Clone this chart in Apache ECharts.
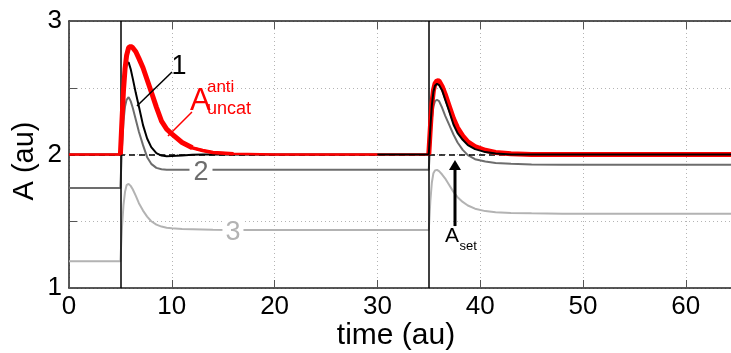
<!DOCTYPE html>
<html><head><meta charset="utf-8">
<script src="https://cdn.jsdelivr.net/npm/echarts@6/dist/echarts.min.js"></script>
<style>html,body{margin:0;padding:0;background:#fff}#c{width:731px;height:353px}</style>
</head><body><div id="c"></div>
<script>
// ---- data ----
const time = [0, 5, 5.15, 5.3, 5.45, 5.6, 5.8, 6.0, 6.2, 6.5, 6.8, 7.2, 7.6, 8.0, 8.5, 9.0, 9.5, 10, 11, 12, 13, 14, 16, 20, 25, 30,
  35, 35.15, 35.3, 35.45, 35.6, 35.8, 36.0, 36.3, 36.6, 37.0, 37.4, 37.8, 38.3, 38.8, 39.5, 40.5, 41.5, 43, 45, 48, 52, 56, 60, 64.4];
const aAntiUncat = [2.0, 2.0, 2.25, 2.48, 2.64, 2.74, 2.80, 2.81, 2.80, 2.77, 2.72, 2.65, 2.56, 2.47, 2.355, 2.25, 2.19, 2.155, 2.09, 2.05, 2.03, 2.015, 2.005, 2.0, 2.0, 2.0,
  2.0, 2.2, 2.38, 2.48, 2.53, 2.553, 2.55, 2.51, 2.45, 2.36, 2.27, 2.20, 2.14, 2.095, 2.06, 2.032, 2.015, 2.005, 2.0, 2.0, 2.0, 2.0, 2.0, 2.0];
const curve1 = [2.0, 2.0, 2.3, 2.52, 2.63, 2.68, 2.69, 2.64, 2.57, 2.46, 2.36, 2.22, 2.12, 2.055, 2.01, 1.992, 1.987, 1.988, 1.993, 1.998, 2.0, 2.0, 2.0, 2.0, 2.0, 2.0,
  2.0, 2.2, 2.37, 2.47, 2.515, 2.53, 2.52, 2.48, 2.41, 2.32, 2.225, 2.16, 2.11, 2.07, 2.04, 2.018, 2.008, 2.0, 2.0, 2.0, 2.0, 2.0, 2.0, 2.0];
const curve2 = [1.75, 1.75, 2.05, 2.25, 2.36, 2.41, 2.43, 2.40, 2.35, 2.26, 2.17, 2.07, 1.98, 1.93, 1.90, 1.89, 1.886, 1.885, 1.885, 1.885, 1.885, 1.885, 1.885, 1.885, 1.885, 1.885,
  1.885, 2.1, 2.27, 2.36, 2.40, 2.41, 2.40, 2.35, 2.29, 2.22, 2.15, 2.09, 2.035, 1.995, 1.965, 1.947, 1.937, 1.93, 1.926, 1.924, 1.923, 1.923, 1.923, 1.923];
const curve3 = [1.2, 1.2, 1.45, 1.62, 1.72, 1.77, 1.78, 1.765, 1.74, 1.69, 1.635, 1.58, 1.535, 1.50, 1.475, 1.46, 1.452, 1.447, 1.442, 1.44, 1.438, 1.436, 1.435, 1.434, 1.434, 1.434,
  1.434, 1.65, 1.79, 1.86, 1.88, 1.885, 1.875, 1.85, 1.82, 1.77, 1.72, 1.68, 1.645, 1.618, 1.594, 1.576, 1.567, 1.562, 1.559, 1.557, 1.556, 1.556, 1.556, 1.556];
const xTicks = [0, 10, 20, 30, 40, 50, 60];
const yTicks = [1, 2, 3];
const pulseTimes = [5, 35];
const aSet = 2;
const xMax = 64.4;

// ---- chart ----
const FONT = '"Liberation Sans", Arial, Helvetica, sans-serif';
const chart = echarts.init(document.getElementById('c'), null, {renderer: 'canvas'});
const pairs = (vals, keep) => time.map((t, i) => (keep ? keep(t) : true) ? [t, vals[i]] : [t, '-']);

const axisLine = {show: true, onZero: false, lineStyle: {color: '#222', width: 1.5}};
const gridDots = {show: true, lineStyle: {color: '#b4b4b4', width: 1, type: [1, 3]}};

chart.setOption({
  animation: false,
  grid: {left: 69, right: 0, top: 21, bottom: 65},
  xAxis: [{
    type: 'value', min: 0, max: xMax, interval: 10, position: 'bottom',
    axisLine, axisTick: {show: true, inside: true, length: 8, lineStyle: {color: '#555', width: 1}},
    axisLabel: {margin: 6, fontSize: 26, color: '#000', fontFamily: FONT, showMaxLabel: false,
      formatter: v => xTicks.includes(v) ? String(v) : ''},
    splitLine: gridDots
  }, {
    type: 'value', min: 0, max: xMax, interval: 10, position: 'top',
    axisLine, axisTick: {show: true, inside: true, length: 8, lineStyle: {color: '#555', width: 1}},
    axisLabel: {show: false}, splitLine: {show: false}
  }],
  yAxis: [{
    type: 'value', min: 1, max: 3, interval: 0.5,
    axisLine, axisTick: {show: true, inside: true, length: 8, lineStyle: {color: '#555', width: 1}},
    axisLabel: {margin: 7, fontSize: 26, color: '#000', fontFamily: FONT,
      formatter: v => yTicks.includes(v) ? String(v) : ''},
    splitLine: gridDots
  }],
  series: [
    {name: '3', type: 'line', data: pairs(curve3), symbol: 'none', z: 2,
      lineStyle: {color: '#b3b3b3', width: 2},
      markLine: {silent: true, symbol: 'none', label: {show: false},
        lineStyle: {color: '#000', width: 1.5, type: [6, 4]},
        data: [{yAxis: aSet}]}},
    {name: '2', type: 'line', data: pairs(curve2), symbol: 'none', z: 3,
      lineStyle: {color: '#6d6d6d', width: 2}},
    {name: '1a', type: 'line', data: pairs(curve1, t => t <= 30), symbol: 'none', z: 4,
      lineStyle: {color: '#000', width: 2}},
    {name: 'anti', type: 'line', data: pairs(aAntiUncat), symbol: 'none', z: 5,
      lineStyle: {color: '#ff0000', width: 2.5}},
    {name: 'antiMid', type: 'line', data: pairs(aAntiUncat, t => t >= 10 && t <= 16),
      symbol: 'none', z: 5, connectNulls: false,
      lineStyle: {color: '#ff0000', width: 3.5}},
    {name: 'antiThick', type: 'line', data: pairs(aAntiUncat, t => (t >= 5 && t <= 12) || t >= 35),
      symbol: 'none', z: 6, connectNulls: false,
      lineStyle: {color: '#ff0000', width: 5}},
    {name: '1b', type: 'line', data: pairs(curve1, t => t >= 30), symbol: 'none', z: 7,
      lineStyle: {color: '#000', width: 2},
      markLine: {silent: true, symbol: 'none', label: {show: false},
        lineStyle: {color: '#000', width: 1.5, type: 'solid'},
        data: pulseTimes.map(t => ({xAxis: t}))}}
  ]
});

// ---- annotations placed in data coordinates ----
const P = (t, v) => chart.convertToPixel({gridIndex: 0}, [t, v]);
function txt(t, v, str, size, color, extra) {
  const p = P(t, v);
  return Object.assign({type: 'text', x: p[0], y: p[1], z: 100,
    style: Object.assign({text: str, font: size + 'px ' + FONT, fill: color, align: 'left', verticalAlign: 'middle'}, extra || {})});
}
function seg(a, b, color, w) {
  const p = P(a[0], a[1]), q = P(b[0], b[1]);
  return {type: 'line', z: 100, shape: {x1: p[0], y1: p[1], x2: q[0], y2: q[1]}, style: {stroke: color, lineWidth: w}};
}
const tip = P(37.55, 1.959), tail = P(37.55, 1.464);
const graphic = [
  seg([6.61, 2.363], [10.02, 2.618], '#000', 1.5),
  txt(10.70, 2.659, '1', 27, '#000', {align: 'center'}),
  seg([9.63, 2.139], [11.96, 2.318], '#ff0000', 1.5),
  txt(11.77, 2.318 + 0.347 * 31 / 133.5, 'A', 31, '#ff0000'),
  txt(13.42, 2.457 + 0.347 * 17 / 133.5, 'anti', 17, '#ff0000'),
  txt(13.42, 2.296 + 0.347 * 18 / 133.5, 'uncat', 18, '#ff0000'),
  txt(12.84, 1.865, '2', 27, '#6d6d6d', {align: 'center', backgroundColor: '#fff', padding: [0, 4]}),
  txt(15.95, 1.416, '3', 27, '#b3b3b3', {align: 'center', backgroundColor: '#fff', padding: [0, 3]}),
  {type: 'line', z: 100, shape: {x1: tail[0], y1: tail[1], x2: tip[0], y2: tip[1] + 8}, style: {stroke: '#000', lineWidth: 3}},
  {type: 'polygon', z: 100, shape: {points: [[tip[0], tip[1]], [tip[0] - 6, tip[1] + 10], [tip[0] + 6, tip[1] + 10]]}, style: {fill: '#000'}},
  txt(36.58, 1.333 + 0.347 * 21 / 133.5, 'A', 21, '#000'),
  txt(37.99, 1.281 + 0.347 * 13 / 133.5, 'set', 13, '#000'),
  {type: 'text', x: 396, y: 336, z: 100, style: {text: 'time (au)', font: '30px ' + FONT, fill: '#000', align: 'center', verticalAlign: 'middle'}},
  {type: 'text', x: 25, y: 161, rotation: Math.PI / 2, z: 100, style: {text: 'A (au)', font: '29px ' + FONT, fill: '#000', align: 'center', verticalAlign: 'middle'}}
];
chart.setOption({graphic});
</script>
</body></html>
